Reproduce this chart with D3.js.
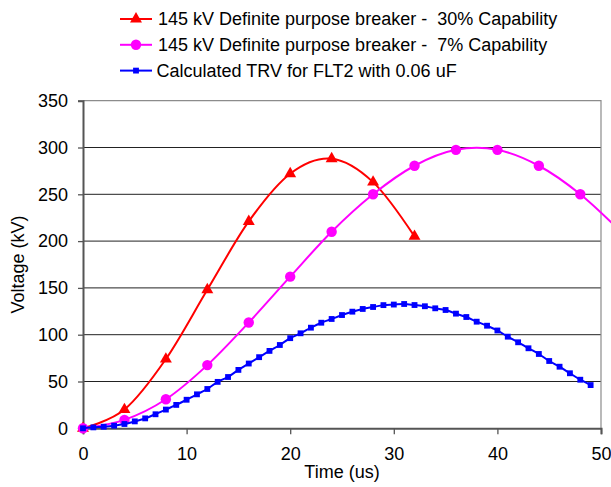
<!DOCTYPE html>
<html>
<head>
<meta charset="utf-8">
<script src="https://cdn.jsdelivr.net/npm/d3@7"></script>
<style>
  body { margin: 0; background: #fff; }
  text { font-family: "Liberation Sans", Arial, sans-serif; fill: #000; }
</style>
</head>
<body>
<div class="chart"></div>
<script>
// data
const SERIES_NAMES = [
    '145 kV Definite purpose breaker -  30% Capability',
    '145 kV Definite purpose breaker -  7% Capability',
    'Calculated TRV for FLT2 with 0.06 uF'
];

const RED_TIME = [0, 4, 8, 12, 16, 20, 24, 28, 32];
const RED_KV = [0, 20, 74, 148, 221, 272, 288, 263, 205];

const MAG_TIME = [0, 4, 8, 12, 16, 20, 24, 28, 32, 36, 40, 44, 48, 52];
const MAG_KV = [0, 9, 31, 67.5, 113, 162, 210, 250, 280.5, 297.5, 297.5, 280.5, 250, 209];

const BLUE_TIME = [0, 1, 2, 3, 4, 5, 6, 7, 8, 9, 10, 11, 12, 13, 14, 15, 16, 17, 18, 19,
    20, 21, 22, 23, 24, 25, 26, 27, 28, 29, 30, 31, 32, 33, 34, 35, 36, 37, 38, 39,
    40, 41, 42, 43, 44, 45, 46, 47, 48, 49];
const BLUE_KV = [0, 1, 1.7, 2.8, 4.6, 7.4, 10.6, 15, 20, 25, 30.5, 36.3, 42, 49.6, 54.8, 62.4, 69.2, 76, 82.7, 89,
    96.3, 101.5, 107.5, 112.8, 116.8, 121, 124.6, 127.5, 129.6, 131.6, 132.2, 132.8, 131.7, 130.4, 128.2, 126.4, 122.5, 118.9, 113.9, 109.6,
    104.5, 97.9, 91.9, 85.5, 79.4, 71.9, 65.8, 58.8, 51.9, 46.2];

const X_TICKS = [0, 10, 20, 30, 40, 50];
const Y_TICKS = [0, 50, 100, 150, 200, 250, 300, 350];

//set up SVG
const SVGWIDTH = 611;
const SVGHEIGHT = 487;
const FONTSIZE = '18px';

const PLOT = { left: 83, right: 601, top: 100.7, bottom: 428.3 };

let svg = d3.select('.chart')
    .append('svg')
    .attr('width', SVGWIDTH)
    .attr('height', SVGHEIGHT);

let xScale = d3.scaleLinear().domain([0, 50]).range([PLOT.left, PLOT.right]);
let yScale = d3.scaleLinear().domain([0, 350]).range([PLOT.bottom, PLOT.top]);

//gridlines
svg.append('g')
    .selectAll('line')
    .data(Y_TICKS.filter(d => d > 0 && d < 350))
    .enter()
    .append('line')
    .attr('x1', PLOT.left)
    .attr('x2', PLOT.right)
    .attr('y1', d => yScale(d))
    .attr('y2', d => yScale(d))
    .attr('stroke', '#222')
    .attr('stroke-width', 1);

//plot area border top + right
svg.append('path')
    .attr('d', `M${PLOT.left},${yScale(350)}H${PLOT.right}V${PLOT.bottom}`)
    .attr('fill', 'none')
    .attr('stroke', '#8c8c8c')
    .attr('stroke-width', 1.2);

//axes
let bottomAxis = d3.axisBottom(xScale).tickValues(X_TICKS).tickSize(6).tickPadding(13);
let leftAxis = d3.axisLeft(yScale).tickValues(Y_TICKS).tickSize(5).tickPadding(10);

let xAxisG = svg.append('g')
    .attr('transform', `translate(0, ${PLOT.bottom})`)
    .call(bottomAxis);
let yAxisG = svg.append('g')
    .attr('transform', `translate(${PLOT.left}, 0)`)
    .call(leftAxis);

[xAxisG, yAxisG].forEach(g => {
    g.select('.domain').attr('stroke', '#555').attr('stroke-width', 2);
    g.selectAll('.tick line').attr('stroke', '#555').attr('stroke-width', 1.3);
    g.selectAll('.tick text')
        .style('font-family', '"Liberation Sans", Arial, sans-serif')
        .style('font-size', FONTSIZE)
        .attr('fill', '#000');
});

//series
const SERIES = [
    { time: RED_TIME, kv: RED_KV, color: '#ff0000', symbol: d3.symbolTriangle, size: 62 },
    { time: MAG_TIME, kv: MAG_KV, color: '#ff00ff', symbol: d3.symbolCircle, size: 85 },
    { time: BLUE_TIME, kv: BLUE_KV, color: '#0000ff', symbol: d3.symbolSquare, size: 34 }
];

let line = d3.line()
    .x(d => xScale(d[0]))
    .y(d => yScale(d[1]))
    .curve(d3.curveCardinal.tension(0));

SERIES.forEach(s => {
    let pts = s.time.map((t, i) => [t, s.kv[i]]);
    svg.append('path')
        .datum(pts)
        .attr('d', line)
        .attr('fill', 'none')
        .attr('stroke', s.color)
        .attr('stroke-width', 2);
    svg.append('g')
        .selectAll('path')
        .data(pts)
        .enter()
        .append('path')
        .attr('d', d3.symbol().type(s.symbol).size(s.size))
        .attr('transform', d => `translate(${xScale(d[0])}, ${yScale(d[1])})`)
        .attr('fill', s.color);
});

//legend
let legend = svg.append('g')
    .selectAll('g')
    .data(SERIES)
    .enter()
    .append('g')
    .attr('transform', (d, i) => `translate(120, ${19 + i * 25.8})`);

legend.append('line')
    .attr('x1', 0)
    .attr('x2', 32)
    .attr('stroke', d => d.color)
    .attr('stroke-width', 2);

legend.append('path')
    .attr('d', d => d3.symbol().type(d.symbol).size(d.size)())
    .attr('transform', 'translate(16, 0)')
    .attr('fill', d => d.color);

legend.append('text')
    .attr('x', (d, i) => i < 2 ? 38 : 36.5)
    .attr('dy', '0.35em')
    .attr('xml:space', 'preserve')
    .style('font-size', FONTSIZE)
    .style('white-space', 'pre')
    .text((d, i) => SERIES_NAMES[i]);

//labels
svg.append('text')
    .attr('x', (PLOT.left + PLOT.right) / 2)
    .attr('y', 478)
    .attr('text-anchor', 'middle')
    .style('font-size', FONTSIZE)
    .text('Time (us)');

svg.append('text')
    .attr('transform', 'rotate(-90)')
    .attr('x', -(PLOT.top + PLOT.bottom) / 2)
    .attr('y', 24)
    .attr('text-anchor', 'middle')
    .style('font-size', FONTSIZE)
    .text('Voltage (kV)');
</script>
</body>
</html>
